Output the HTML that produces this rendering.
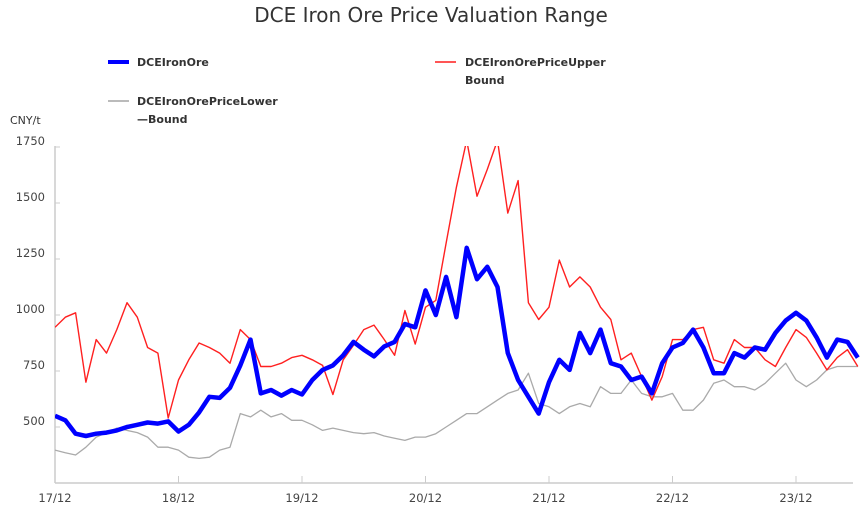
<!DOCTYPE html>
<html><head><meta charset="utf-8"><style>
body{margin:0;background:#fff;width:861px;height:516px;overflow:hidden;font-family:"DejaVu Sans",sans-serif}
svg text{font-family:"DejaVu Sans",sans-serif}
</style></head><body>
<svg id="chart" width="861" height="516" xmlns="http://www.w3.org/2000/svg">
<text x="431" y="22" text-anchor="middle" font-size="20" fill="#333">DCE Iron Ore Price Valuation Range</text>
<g><line x1="108" y1="62" x2="129" y2="62" stroke="#0000ff" stroke-width="4"/><text x="137" y="66" font-size="11" font-weight="bold" fill="#333">DCEIronOre</text></g>
<g><line x1="435" y1="62" x2="456" y2="62" stroke="#ff5555" stroke-width="2"/><text x="465" y="66" font-size="11" font-weight="bold" fill="#333">DCEIronOrePriceUpper</text><text x="465" y="84" font-size="11" font-weight="bold" fill="#333">Bound</text></g>
<g><line x1="108" y1="101" x2="129" y2="101" stroke="#bbb" stroke-width="2"/><text x="137" y="105" font-size="11" font-weight="bold" fill="#333">DCEIronOrePriceLower</text><text x="137" y="123" font-size="11" font-weight="bold" fill="#333">—Bound</text></g>
<text x="10" y="124" font-size="11" fill="#333">CNY/t</text>
<defs><clipPath id="plot"><rect x="55" y="146" width="810" height="340"/></clipPath></defs>
<g id="axes"></g>
<g id="series" clip-path="url(#plot)"></g>
</svg>
<script>
const yTicks=[500,750,1000,1250,1500,1750];
const xLabels=["17/12","18/12","19/12","20/12","21/12","22/12","23/12"];
const dce=[550,530,470,460,470,475,485,500,510,520,515,525,480,510,565,635,630,675,775,890,650,665,640,665,645,710,755,775,820,880,845,815,860,880,960,945,1110,1000,1170,990,1300,1160,1215,1125,830,710,635,560,700,800,755,920,830,935,785,770,710,725,650,785,855,875,935,855,740,740,830,810,855,845,920,975,1010,975,900,810,890,880,810];
const upper=[945,990,1010,700,890,830,935,1055,990,855,830,540,710,800,875,855,830,785,935,890,770,770,785,810,820,800,775,645,800,865,935,955,890,820,1020,870,1035,1065,1320,1570,1780,1530,1650,1780,1455,1600,1055,980,1035,1245,1125,1170,1125,1035,980,800,830,725,620,725,890,890,935,945,800,785,890,855,855,800,770,855,935,900,830,755,810,845,770];
const lower=[397,385,375,410,455,475,495,485,475,455,410,410,397,365,360,365,397,410,560,545,575,545,560,530,530,510,485,495,485,475,470,475,460,450,440,455,455,470,500,530,560,560,590,620,650,665,740,605,590,560,590,605,590,680,650,650,710,650,635,635,650,575,575,620,695,710,680,680,665,695,740,785,710,680,710,755,770,770,770];
const X0=55,PX=123.5/12,Y0=483,PY=0.224,VMIN=250;
const xs=i=>X0+i*PX, ys=v=>Y0-(v-VMIN)*PY;
const NS="http://www.w3.org/2000/svg";
const axes=document.getElementById('axes'), ser=document.getElementById('series');
function mk(t,a,p){const e=document.createElementNS(NS,t);for(const k in a)e.setAttribute(k,a[k]);p.appendChild(e);return e;}
const ya=mk('line',{x1:X0,y1:146,x2:X0,y2:Y0,stroke:'#ccc','stroke-width':1.5},axes);


const xa=mk('line',{x1:X0,y1:Y0,x2:853,y2:Y0,stroke:'#ccc','stroke-width':1.5},axes);


yTicks.forEach(v=>{const y=ys(v);
 mk('line',{x1:X0,y1:y,x2:X0+5,y2:y,stroke:'#ccc'},axes);
 const t=mk('text',{x:45,y:y-2,'text-anchor':'end','font-size':11.5,fill:'#444'},axes);t.textContent=v;
 
 });
xLabels.forEach((l,k)=>{const x=xs(k*12);
 if(k>0)mk('line',{x1:x,y1:Y0-7,x2:x,y2:Y0,stroke:'#ccc'},axes);
 const t=mk('text',{x:x,y:502,'text-anchor':'middle','font-size':11.5,fill:'#444'},axes);t.textContent=l;
 
 });
function line(d,c,w,name){const p=mk('polyline',{points:d.map((v,i)=>xs(i).toFixed(1)+','+ys(v).toFixed(1)).join(' '),fill:'none',stroke:c,'stroke-width':w,'stroke-linejoin':'round'},ser);
 
 }
line(lower,'#aaa',1.3,'lower-bound-line');
line(upper,'#ff2020',1.4,'upper-bound-line');
line(dce,'#0000ff',4.5,'dce-iron-ore-line');
</script>
</body></html>
